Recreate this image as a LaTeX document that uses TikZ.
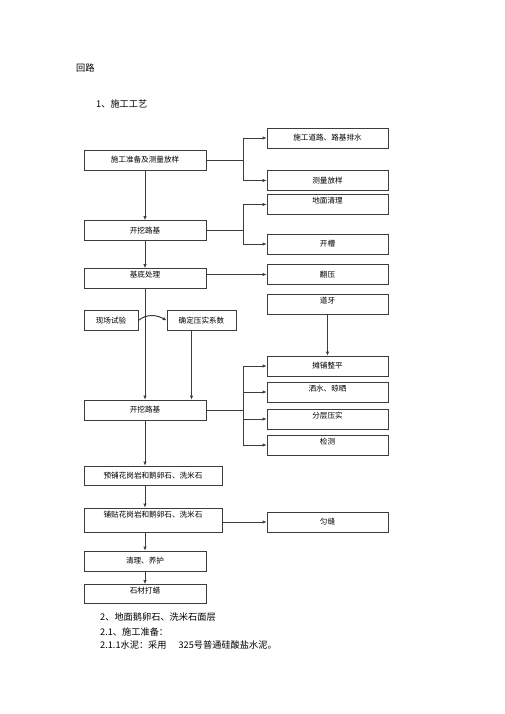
\documentclass[tikz,border=0pt]{standalone}
\usepackage{fontspec}
\newfontfamily\cjk{Noto Sans CJK SC}
\usepackage{tikz}
\usetikzlibrary{arrows.meta, positioning}
\definecolor{boxline}{RGB}{60, 60, 60}

\tikzset{
    every node/.style={font=\cjk\fontsize{7.6}{9}\selectfont},
    lbox/.style={draw=boxline, line width=0.7pt, minimum width=122pt, minimum height=20pt, inner sep=2pt},
    rbox/.style={lbox, minimum width=121pt},
    uptext/.style={minimum height=0pt, text height=7pt, text depth=9pt},
    arr/.style={draw=boxline, line width=0.7pt, -{Latex[length=4pt, width=3.5pt]}},
    plain/.style={font=\cjk\fontsize{9.2}{11}\selectfont, anchor=west, inner sep=0pt}
}

\begin{document}
\begin{tikzpicture}[x=1pt, y=-1pt]
    \useasboundingbox (0,0) rectangle (505,714);

    % Tiêu đề
    \node[plain] (head) at (76,68) {回路};
    \node[plain] (step1) at (96,104) {1、施工工艺};

    % Cột trái
    \node[lbox] (prep) at (145,160) {施工准备及测量放样};
    \node[lbox] (dig1) at (145,230.5) {开挖路基};
    \node[lbox, uptext] (base) at (145,278.5) {基底处理};
    \node[lbox, minimum width=54pt] (test) at (111,320.5) {现场试验};
    \node[lbox, minimum width=69pt] (coef) at (201.5,320.5) {确定压实系数};
    \node[lbox] (dig2) at (145,410) {开挖路基};
    \node[lbox, minimum width=138pt, minimum height=19pt] (prelay) at (153,475.5) {预铺花岗岩和鹅卵石、洗米石};
    \node[lbox, uptext, minimum width=138pt, text depth=13pt] (pave) at (153,520) {铺贴花岗岩和鹅卵石、洗米石};
    \node[lbox] (cure) at (145,561) {清理、养护};
    \node[lbox, uptext, text depth=8pt] (wax) at (145,594) {石材打蜡};

    % Cột phải
    \node[rbox] (road) at (327.5,138) {施工道路、路基排水};
    \node[rbox] (survey) at (327.5,180.5) {测量放样};
    \node[rbox, uptext] (clean) at (327.5,204.5) {地面清理};
    \node[rbox] (trench) at (327.5,244) {开槽};
    \node[rbox] (press) at (327.5,274.5) {翻压};
    \node[rbox, uptext] (curb) at (327.5,304) {道牙};
    \node[rbox] (spread) at (327.5,366) {摊铺整平};
    \node[rbox, uptext] (water) at (327.5,392) {洒水、晾晒};
    \node[rbox, uptext] (layer) at (327.5,419) {分层压实};
    \node[rbox, uptext] (check) at (327.5,445) {检测};
    \node[rbox] (joint) at (327.5,522) {匀缝};

    % Mũi tên dọc
    \draw[arr] (prep) -- (dig1);
    \draw[arr] (dig1) -- (base);
    \draw[arr] (base) -- (dig2);
    \draw[arr] ([xshift=-10pt]coef.south) -- ([xshift=-10pt]coef.south |- dig2.north);
    \draw[arr] (dig2.south) -- (dig2.south |- prelay.north);
    \draw[arr] (dig2.south |- prelay.south) -- (dig2.south |- pave.north);
    \draw[arr] (dig2.south |- pave.south) -- (cure.north);
    \draw[arr] (cure) -- (wax);
    \draw[arr] (curb) -- (spread);
    \draw[arr, line width=1pt] (test.east) to[out=40, in=150] (coef.west);

    % Nhánh sang phải
    \foreach \t in {road, survey}
        \draw[arr] (prep.east) -- ++(37,0) |- (\t.west);
    \foreach \t in {clean, trench}
        \draw[arr] (dig1.east) -- ++(37,0) |- (\t.west);
    \draw[arr] (base.east |- press.west) -- (press.west);
    \foreach \t in {spread, water, layer, check}
        \draw[arr] (dig2.east) -- ++(37,0) |- (\t.west);
    \draw[arr] (pave.east |- joint.west) -- (joint.west);

    % Đoạn văn bên dưới
    \node[plain] (sec2) at (100,617) {2、地面鹅卵石、洗米石面层};
    \node[plain] (sec21) at (100,632) {2.1、施工准备：};
    \node[plain] (sec211) at (100,645) {2.1.1水泥：采用\hspace{12pt}325号普通硅酸盐水泥。};
\end{tikzpicture}
\end{document}
